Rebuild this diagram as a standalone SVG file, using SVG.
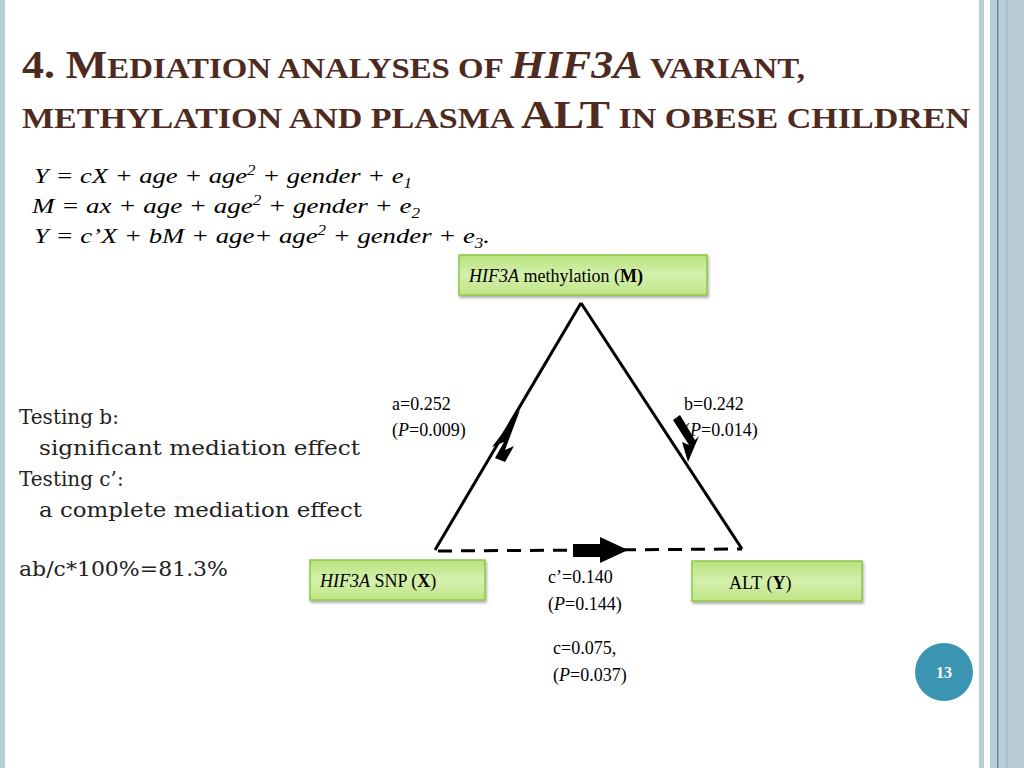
<svg xmlns="http://www.w3.org/2000/svg" width="1024" height="768" viewBox="0 0 1024 768">
<style>
.t{font-family:"Liberation Serif",serif;font-weight:bold;fill:#4f2a1f}
.f{font-family:"Liberation Serif",serif;font-style:italic;font-size:22px;fill:#000}
.l{font-family:"DejaVu Serif",serif;font-size:20px;fill:#222}
.n{font-family:"Liberation Serif",serif;font-size:18px;fill:#000}
.box{fill:url(#g);stroke:#8fc74a;stroke-width:1.5;filter:url(#sh)}
.e{stroke:#000;stroke-width:3;fill:none}
</style>
<defs>
<linearGradient id="g" x1="0" y1="0" x2="0" y2="1"><stop offset="0" stop-color="#b7e27c"/><stop offset="0.5" stop-color="#d5f0ad"/><stop offset="1" stop-color="#bfe585"/></linearGradient>
<filter id="sh" x="-10%" y="-20%" width="120%" height="150%"><feDropShadow dx="1" dy="2" stdDeviation="1.5" flood-opacity="0.35"/></filter>
</defs>
<rect width="1024" height="768" fill="#fff"/>
<rect x="0" y="0" width="5" height="768" fill="#b9cdd6"/>
<rect x="979" y="0" width="5" height="768" fill="#b9cdd6"/>
<rect x="990" y="0" width="34" height="768" fill="#b9cdd6"/>
<rect x="997" y="0" width="1.5" height="768" fill="#4a96ad"/>
<rect x="1006" y="0" width="1.5" height="768" fill="#9fbcc8"/>
<text class="t" x="22" y="78" textLength="783" lengthAdjust="spacingAndGlyphs"><tspan font-size="40">4. M</tspan><tspan font-size="30">EDIATION ANALYSES OF </tspan><tspan font-size="40" font-style="italic">HIF3A</tspan><tspan font-size="30"> VARIANT,</tspan></text>
<text class="t" x="22" y="128" textLength="948" lengthAdjust="spacingAndGlyphs"><tspan font-size="30">METHYLATION AND PLASMA </tspan><tspan font-size="40">ALT</tspan><tspan font-size="30"> IN OBESE CHILDREN</tspan></text>
<text class="f" x="34" y="183" textLength="378" lengthAdjust="spacingAndGlyphs">Y = cX + age + age<tspan font-size="14" dy="-8">2</tspan><tspan dy="8"> + gender + e</tspan><tspan font-size="14" dy="5">1</tspan></text>
<text class="f" x="32" y="213" textLength="388" lengthAdjust="spacingAndGlyphs">M = ax + age + age<tspan font-size="14" dy="-8">2</tspan><tspan dy="8"> + gender + e</tspan><tspan font-size="14" dy="5">2</tspan></text>
<text class="f" x="34" y="243" textLength="456" lengthAdjust="spacingAndGlyphs">Y = c’X + bM + age+ age<tspan font-size="14" dy="-8">2</tspan><tspan dy="8"> + gender + e</tspan><tspan font-size="14" dy="5">3</tspan><tspan dy="-5">.</tspan></text>
<g id="edges">
<line class="e" x1="435" y1="550" x2="581" y2="303"/>
<line class="e" x1="581" y1="303" x2="742" y2="549"/>
<line class="e" x1="438" y1="551" x2="742" y2="549" stroke-dasharray="14,9"/>
<polygon points="520,410 505,450 514,446 505,462 495,458 504,442 492,447" fill="#000"/>
<polygon points="688,462 682,442 689,445 673,420 680,415 695,440 699,436" fill="#000"/>
<polygon points="628,550 600,537 600,544 573,544 573,557 600,557 600,563" fill="#000"/>
</g>
<g id="M"><rect class="box" x="459" y="255" width="248" height="40"/><text class="n" x="469" y="282"><tspan font-style="italic">HIF3A</tspan> methylation (<tspan font-weight="bold">M)</tspan></text></g>
<g id="X"><rect class="box" x="310" y="560" width="175" height="40"/><text class="n" x="320" y="587"><tspan font-style="italic">HIF3A</tspan> SNP (<tspan font-weight="bold">X</tspan>)</text></g>
<g id="Y"><rect class="box" x="692" y="561" width="170" height="40"/><text class="n" x="729" y="589">ALT (<tspan font-weight="bold">Y</tspan>)</text></g>
<g class="n">
<text x="392" y="410">a=0.252</text><text x="392" y="436">(<tspan font-style="italic">P</tspan>=0.009)</text>
<text x="684" y="410">b=0.242</text><text x="684" y="436">(<tspan font-style="italic">P</tspan>=0.014)</text>
<text x="548" y="583">c’=0.140</text><text x="548" y="610">(<tspan font-style="italic">P</tspan>=0.144)</text>
<text x="553" y="654">c=0.075,</text><text x="553" y="681">(<tspan font-style="italic">P</tspan>=0.037)</text>
</g>
<text class="l" x="19" y="424">Testing b:</text>
<text class="l" x="39" y="455" textLength="321" lengthAdjust="spacingAndGlyphs">significant mediation effect</text>
<text class="l" x="19" y="486">Testing c’:</text>
<text class="l" x="39" y="517" textLength="323" lengthAdjust="spacingAndGlyphs">a complete mediation effect</text>
<text class="l" x="19" y="576" textLength="209" lengthAdjust="spacingAndGlyphs">ab/c*100%=81.3%</text>
<circle cx="944" cy="672" r="29" fill="#3a95b3"/>
<text x="944" y="678" text-anchor="middle" font-family="Liberation Serif,serif" font-size="16" font-weight="bold" fill="#fff">13</text>
</svg>
